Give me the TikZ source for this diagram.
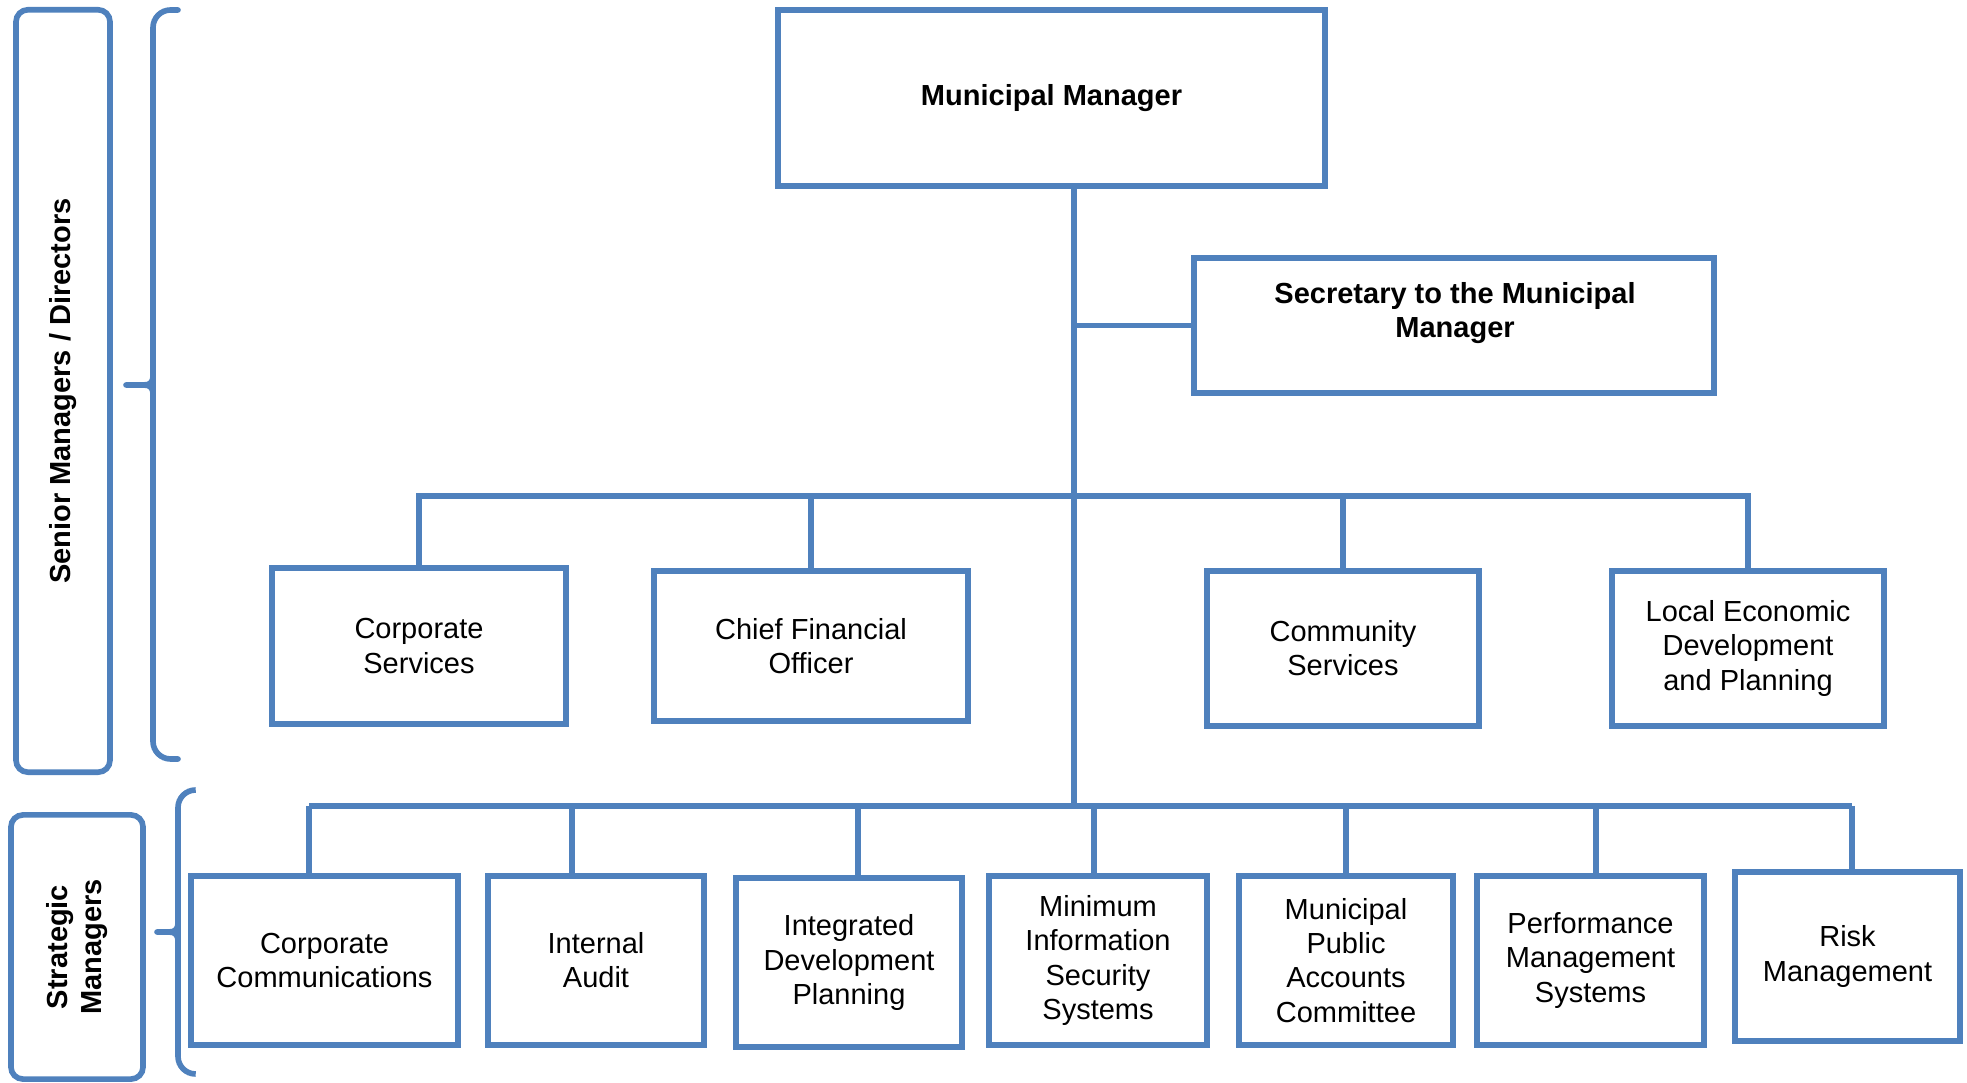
\documentclass[tikz,border=0pt]{standalone}
\usepackage{fontspec}
\setmainfont{Liberation Sans}
\definecolor{orgblue}{HTML}{4F81BD}

\begin{document}
\begin{tikzpicture}[x = 0.01cm, y = -0.01cm, line width = 1.6pt,
                    unit/.style = {draw = orgblue, fill = white, align = center, inner sep = 0pt,
                                   font = \fontsize{8.25}{9.7}\selectfont},
                    head/.style = {unit, font = \fontsize{8.25}{9.7}\selectfont\bfseries},
                    tier/.style = {draw = orgblue, rounded corners = 0.12cm, align = center, inner sep = 0pt,
                                   rotate = 90, font = \fontsize{8.25}{9.7}\selectfont\bfseries},
                    link/.style = {draw = orgblue},
                    brace/.style = {draw = orgblue, line cap = round}]
      \useasboundingbox (0, 0) rectangle (1967, 1083);
      % top of the chart
      \node [head, minimum width = 5.47cm, minimum height = 1.76cm] (mm) at (1051.5, 98) {Municipal Manager};
      \node [head, minimum width = 5.20cm, minimum height = 1.35cm] (sec) at (1454, 325.5) {};
      \node [head, draw = none, fill = none] (sectext) at (1455, 313.5) {Secretary to the Municipal\\Manager};
      % directors
      \node [unit, minimum width = 2.94cm, minimum height = 1.56cm] (cs) at (419, 646) {Corporate\\Services};
      \node [unit, minimum width = 3.14cm, minimum height = 1.50cm] (cfo) at (811, 646) {Chief Financial\\Officer};
      \node [unit, minimum width = 2.72cm, minimum height = 1.55cm] (coms) at (1343, 648.5) {Community\\Services};
      \node [unit, minimum width = 2.72cm, minimum height = 1.55cm] (led) at (1748, 648.5) {Local Economic\\Development\\and Planning};
      % strategic managers
      \node [unit, minimum width = 2.67cm, minimum height = 1.69cm] (cc) at (324.5, 960.5) {Corporate\\Communications};
      \node [unit, minimum width = 2.16cm, minimum height = 1.69cm] (ia) at (596, 960.5) {Internal\\Audit};
      \node [unit, minimum width = 2.26cm, minimum height = 1.69cm] (idp) at (849, 962.5) {Integrated\\Development\\Planning};
      \node [unit, minimum width = 2.18cm, minimum height = 1.69cm] (miss) at (1098, 960.5) {Minimum\\Information\\Security\\Systems};
      \node [unit, minimum width = 2.14cm, minimum height = 1.69cm] (mpac) at (1346, 960.5) {Municipal\\Public\\Accounts\\Committee};
      \node [unit, minimum width = 2.27cm, minimum height = 1.69cm] (pms) at (1590.5, 960.5) {Performance\\Management\\Systems};
      \node [unit, minimum width = 2.25cm, minimum height = 1.69cm] (risk) at (1847.5, 956.5) {Risk\\Management};
      % side labels
      \node [tier, minimum width = 7.62cm, minimum height = 0.94cm] (senior) at (63, 391) {Senior Managers / Directors};
      \node [tier, minimum width = 2.64cm, minimum height = 1.32cm] (strat) at (77, 947) {Strategic\\Managers};

      \coordinate (trunk) at (1074, 806);
      \coordinate (ubus) at (1074, 496);
      \draw [link] (trunk |- mm.south) -- (trunk);
      \draw [link] (trunk |- sec.west) -- (sec.west);
      \draw [link] (cs.north) |- (ubus) -| (led.north);
      \draw [link] (ubus -| cfo.north) -- (cfo.north);
      \draw [link] (ubus -| coms.north) -- (coms.north);
      \foreach \x/\n in {309/cc, 572/ia, 858/idp, 1094/miss, 1346/mpac, 1596/pms, 1852/risk} {
        \coordinate (d\n) at (\x, 806);
        \draw [link] (d\n) -- (d\n |- \n.north);
      }
      \draw [link] (dcc) -- (drisk);

      % braces
      \draw [brace, rounded corners = 5] (178, 10) -- (153, 10) -- (153, 759) -- (178, 759);
      \draw [brace] (153, 375) .. controls (153, 383) and (150, 385) .. (143, 385) -- (126, 385);
      \draw [brace] (153, 395) .. controls (153, 387) and (150, 385) .. (143, 385);
      \draw [brace, rounded corners = 5] (195, 790) -- (178, 790) -- (178, 1074) -- (195, 1074);
      \draw [brace] (178, 922) .. controls (178, 930) and (175, 932) .. (168, 932) -- (157, 932);
      \draw [brace] (178, 942) .. controls (178, 934) and (175, 932) .. (168, 932);
\end{tikzpicture}
\end{document}
